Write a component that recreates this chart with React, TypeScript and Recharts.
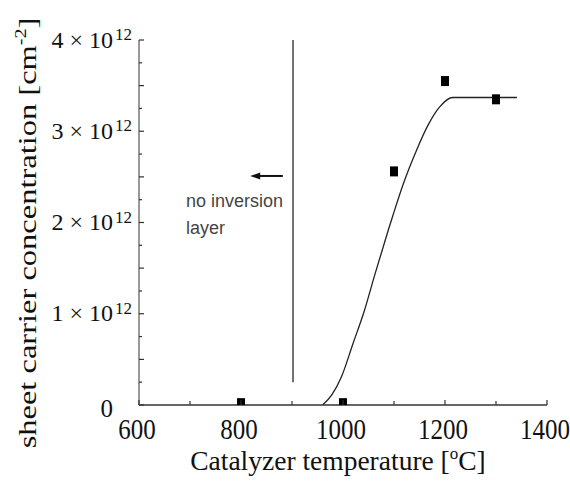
import React from 'react';
import { ComposedChart, Line, Scatter, XAxis, YAxis, ReferenceLine, ReferenceDot } from 'recharts';

// Fitted curve (temperature °C, concentration in units of 10^12 cm^-2)
const curveTemps = [960, 978, 997, 1020, 1040, 1063, 1089, 1098, 1118, 1144, 1167, 1190, 1215, 1341];
const curveConc = [0, 0.11, 0.31, 0.68, 1.0, 1.44, 1.92, 2.08, 2.42, 2.79, 3.07, 3.27, 3.37, 3.37];

// Measured points
const pointTemps = [800, 1000, 1100, 1200, 1300];
const pointConc = [0.02, 0.02, 2.56, 3.55, 3.35];

// Axis ticks
const xTicks = [600, 700, 800, 900, 1000, 1100, 1200, 1300, 1400];
const xLabelTicks = [600, 800, 1000, 1200, 1400];
const yTicks = [0, 0.25, 0.5, 0.75, 1, 1.25, 1.5, 1.75, 2, 2.25, 2.5, 2.75, 3, 3.25, 3.5, 3.75, 4];
const yLabelTicks = [0, 1, 2, 3, 4];

// Annotations
const boundaryTemp = 902;
const boundaryConc = [0.25, 4];
const arrowTemps = [818, 882];
const arrowConc = 2.51;
const noteTemp = 692;
const noteLines = ['no inversion', 'layer'];
const noteConc = [2.17, 1.87];

const curveData = curveTemps.map((t, i) => ({ t, c: curveConc[i] }));
const pointData = pointTemps.map((t, i) => ({ t, c: pointConc[i] }));

const SERIF = "'Liberation Serif'";
const SANS = "'Liberation Sans'";
const AX = '#333';

const BottomTick = (props: any) => {
  const { x, y, payload } = props;
  const v = payload.value;
  const major = v % 200 === 0;
  return (
    <g>
      <line x1={x} x2={x} y1={y} y2={y - (major ? 5 : 4)} stroke={AX} strokeWidth={1.2} />
      {xLabelTicks.includes(v) && (
        <text
          transform={`translate(${x - 2},${y + 34}) scale(1,1.15)`}
          x={0}
          y={0}
          textAnchor="middle"
          fontFamily={SERIF}
          fontSize={25}
          style={{ fontFamily: SERIF, fontSize: 25 }}
          fill="#111"
        >
          {v}
        </text>
      )}
    </g>
  );
};

const TopTick = (props: any) => {
  const { x, y, payload } = props;
  const major = payload.value % 200 === 0;
  return <line x1={x} x2={x} y1={y} y2={y + (major ? 5 : 4)} stroke={AX} strokeWidth={1.2} />;
};

const LeftTick = (props: any) => {
  const { x, y, payload } = props;
  const v = payload.value;
  const major = v % 0.5 === 0;
  return (
    <g>
      <line x1={x} x2={x + (major ? 5 : 3)} y1={y} y2={y} stroke={AX} strokeWidth={1.2} />
      {yLabelTicks.includes(v) &&
        (v === 0 ? (
          <text
            x={x - 26}
            y={y + 12}
            textAnchor="end"
            fontFamily={SERIF}
            fontSize={25}
            style={{ fontFamily: SERIF, fontSize: 25 }}
            fill="#111"
          >
            0
          </text>
        ) : (
          <g>
            <text
              x={x - 26}
              y={y + 7.5}
              textAnchor="end"
              fontFamily={SERIF}
              fontSize={24}
              style={{ fontFamily: SERIF, fontSize: 24 }}
              fill="#111"
            >
              {`${v} \u00d7 10`}
            </text>
            <text
              x={x - 7}
              y={y}
              textAnchor="end"
              fontFamily={SERIF}
              fontSize={17}
              style={{ fontFamily: SERIF, fontSize: 17 }}
              fill="#111"
            >
              12
            </text>
          </g>
        ))}
    </g>
  );
};

const RightTick = (props: any) => {
  const { x, y, payload } = props;
  const major = payload.value % 0.5 === 0;
  return <line x1={x} x2={x - (major ? 5 : 3)} y1={y} y2={y} stroke={AX} strokeWidth={1.2} />;
};

const XTitle = (props: any) => {
  const vb = props.viewBox || { x: 139, y: 405, width: 408, height: 79 };
  const cx = vb.x + vb.width / 2 - 5;
  return (
    <text x={cx} y={vb.y + 65} textAnchor="middle" style={{ fontFamily: SERIF, fontSize: 27.5 }} fill="#111">
      Catalyzer temperature [
      <tspan style={{ fontSize: 17 }} dy={-11}>o</tspan>
      <tspan dy={11}>C]</tspan>
    </text>
  );
};

const YTitle = (props: any) => {
  const vb = props.viewBox || { x: 0, y: 40, width: 139, height: 365 };
  const bx = vb.x + 36;
  const cy = 233;
  return (
    <text
      transform={`translate(${bx},${cy}) rotate(-90) scale(1.25,1)`}
      x={0}
      y={0}
      textAnchor="middle"
      style={{ fontFamily: SERIF, fontSize: 26 }}
      fill="#111"
    >
      sheet carrier concentration [cm
      <tspan style={{ fontSize: 16 }} dy={-10}>-2</tspan>
      <tspan dy={10}>]</tspan>
    </text>
  );
};

const Square = (p: any) => {
  const { cx, cy } = p;
  if (cx == null || cy == null) return <g />;
  return <rect x={cx - 4} y={cy - 5} width={8} height={10} fill="#000" />;
};

const Arrow = (p: any) => {
  const x1 = Math.min(p.x1, p.x2);
  const x2 = Math.max(p.x1, p.x2);
  const y = p.y1;
  return (
    <g>
      <line x1={x1 + 6} x2={x2} y1={y} y2={y} stroke="#111" strokeWidth={2} />
      <polygon points={`${x1},${y} ${x1 + 10},${y - 3.5} ${x1 + 10},${y + 3.5}`} fill="#111" />
    </g>
  );
};

export default function App() {
  return (
    <div style={{ position: 'absolute', left: 0, top: 0, width: 570, height: 484, background: '#fff' }}>
      <ComposedChart width={570} height={484} margin={{ top: 40, right: 23, bottom: 0, left: 0 }}>
        <XAxis
          xAxisId={0}
          type="number"
          dataKey="t"
          domain={[600, 1400]}
          ticks={xTicks}
          interval={0}
          height={79}
          tickSize={0}
          tickMargin={0}
          tickLine={false}
          axisLine={{ stroke: AX, strokeWidth: 1.4 }}
          tick={<BottomTick />}
          label={<XTitle />}
          allowDataOverflow
        />
        <XAxis
          xAxisId="top"
          orientation="top"
          type="number"
          dataKey="t"
          domain={[600, 1400]}
          ticks={xTicks}
          interval={0}
          height={0}
          tickSize={0}
          tickMargin={0}
          tickLine={false}
          axisLine={{ stroke: AX, strokeWidth: 1.4 }}
          tick={<TopTick />}
          allowDataOverflow
        />
        <YAxis
          yAxisId={0}
          type="number"
          dataKey="c"
          domain={[0, 4]}
          ticks={yTicks}
          interval={0}
          width={139}
          tickSize={0}
          tickMargin={0}
          tickLine={false}
          axisLine={{ stroke: '#555', strokeWidth: 1.2 }}
          tick={<LeftTick />}
          label={<YTitle />}
          allowDataOverflow
        />
        <YAxis
          yAxisId="right"
          orientation="right"
          type="number"
          dataKey="c"
          domain={[0, 4]}
          ticks={yTicks}
          interval={0}
          width={0}
          tickSize={0}
          tickMargin={0}
          tickLine={false}
          axisLine={{ stroke: AX, strokeWidth: 1.4 }}
          tick={<RightTick />}
          allowDataOverflow
        />
        <ReferenceLine
          segment={[
            { x: boundaryTemp, y: boundaryConc[0] },
            { x: boundaryTemp, y: boundaryConc[1] },
          ]}
          stroke="#444"
          strokeWidth={1.5}
        />
        <ReferenceLine
          segment={[
            { x: arrowTemps[0], y: arrowConc },
            { x: arrowTemps[1], y: arrowConc },
          ]}
          shape={<Arrow />}
        />
        {noteLines.map((s, i) => (
          <ReferenceDot
            key={s}
            x={noteTemp}
            y={noteConc[i]}
            r={0}
            shape={(p: any) => (
              <text x={p.cx} y={p.cy} style={{ fontFamily: SANS, fontSize: 18 }} fill="#444">
                {s}
              </text>
            )}
          />
        ))}
        <Line
          data={curveData}
          dataKey="c"
          type="monotone"
          stroke="#222"
          strokeWidth={1.3}
          dot={false}
          isAnimationActive={false}
        />
        <Scatter data={pointData} dataKey="c" shape={<Square />} isAnimationActive={false} />
      </ComposedChart>
    </div>
  );
}
